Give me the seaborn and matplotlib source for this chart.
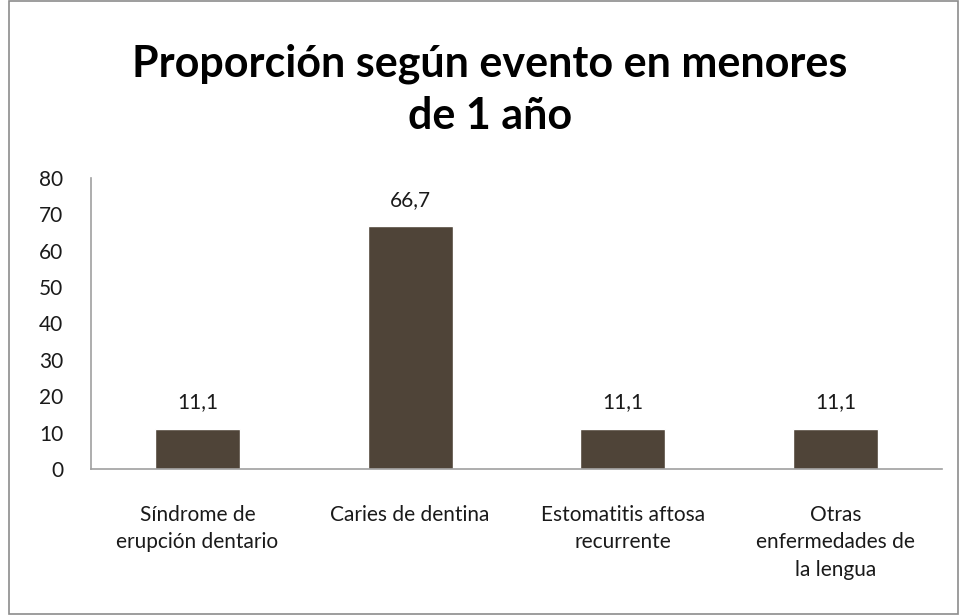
import pandas as pd
import seaborn as sns
import matplotlib.pyplot as plt
from matplotlib.patches import Rectangle

# data
categorias = ["Síndrome de\nerupción dentario", "Caries de dentina",
              "Estomatitis aftosa\nrecurrente", "Otras\nenfermedades de\nla lengua"]
valores = [11.1, 66.7, 11.1, 11.1]
etiquetas = ["11,1", "66,7", "11,1", "11,1"]

df = pd.DataFrame({"evento": categorias, "proporcion": valores})

sns.set_style("white")
plt.rcParams['font.family'] = ['Lato', 'DejaVu Sans']

fig = plt.figure(figsize=(9.61, 6.15), dpi=100)
ax = fig.add_axes([0.0947, 0.2374, 0.8853, 0.4732])

sns.barplot(data=df, x="evento", y="proporcion", color="#4F4438",
            saturation=1, width=0.4, ax=ax)
ax.bar_label(ax.containers[0], labels=etiquetas, padding=12, fontsize=15, color="#1a1a1a")

ax.set_ylim(0, 80)
ax.set_yticks(range(0, 81, 10))
ax.set_xlabel("")
ax.set_ylabel("")
ax.tick_params(axis="both", length=0, labelsize=15, colors="#1a1a1a")
ax.tick_params(axis="x", pad=26)
ax.tick_params(axis="y", pad=20)
for lab in ax.get_xticklabels():
    lab.set_linespacing(1.45)

sns.despine(ax=ax)
for s in ["left", "bottom"]:
    ax.spines[s].set_color("#A0A0A0")
    ax.spines[s].set_linewidth(1.2)

fig.text(0.51, 0.854, "Proporción según evento en menores\nde 1 año", ha="center", va="center",
         fontsize=31, fontweight="bold", linespacing=1.38, color="black")

# outer frame
fig.patches.append(Rectangle((0.009, 0.002), 0.988, 0.996, transform=fig.transFigure,
                             fill=False, edgecolor="#8C8C8C", linewidth=1.2))

fig.savefig("out.png", dpi=100)
